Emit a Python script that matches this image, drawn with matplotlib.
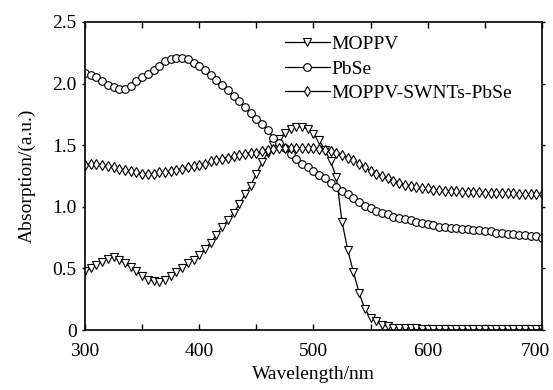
import matplotlib
matplotlib.use("Agg")
import matplotlib.pyplot as plt
import matplotlib.transforms as mtransforms
import numpy as np
from matplotlib.ticker import MultipleLocator, FuncFormatter

# wavelength grid, 5 nm steps
wavelength = np.arange(300, 705, 5)

moppv = [
    0.48, 0.50, 0.53, 0.55, 0.58, 0.59, 0.57, 0.54, 0.51, 0.48,
    0.44, 0.41, 0.40, 0.39, 0.41, 0.44, 0.47, 0.50, 0.54, 0.57,
    0.61, 0.66, 0.71, 0.77, 0.84, 0.89, 0.95, 1.02, 1.10, 1.17,
    1.27, 1.36, 1.44, 1.50, 1.55, 1.60, 1.63, 1.65, 1.65, 1.63,
    1.59, 1.54, 1.46, 1.37, 1.24, 0.88, 0.65, 0.47, 0.30, 0.17,
    0.10, 0.07, 0.04, 0.03, 0.02, 0.02, 0.015, 0.015, 0.015, 0.01,
    0.01, 0.01, 0.01, 0.01, 0.01, 0.01, 0.01, 0.01, 0.01, 0.01,
    0.01, 0.01, 0.01, 0.01, 0.01, 0.01, 0.01, 0.01, 0.01, 0.01,
    0.01,
]

pbse = [
    2.09, 2.07, 2.05, 2.02, 1.99, 1.97, 1.96, 1.96, 1.98, 2.02,
    2.05, 2.08, 2.11, 2.14, 2.18, 2.20, 2.21, 2.21, 2.20, 2.17,
    2.14, 2.11, 2.07, 2.03, 1.99, 1.95, 1.90, 1.86, 1.81, 1.76,
    1.71, 1.67, 1.62, 1.56, 1.52, 1.48, 1.43, 1.39, 1.35, 1.32,
    1.29, 1.26, 1.23, 1.19, 1.16, 1.13, 1.10, 1.07, 1.04, 1.01,
    0.99, 0.97, 0.95, 0.94, 0.92, 0.91, 0.90, 0.89, 0.88, 0.87,
    0.86, 0.85, 0.84, 0.84, 0.83, 0.83, 0.82, 0.82, 0.81, 0.81,
    0.80, 0.80, 0.79, 0.79, 0.78, 0.78, 0.77, 0.77, 0.76, 0.76,
    0.75,
]

hybrid = [
    1.34, 1.35, 1.35, 1.34, 1.33, 1.32, 1.31, 1.30, 1.29, 1.28,
    1.27, 1.27, 1.27, 1.28, 1.28, 1.29, 1.30, 1.31, 1.32, 1.33,
    1.34, 1.35, 1.37, 1.38, 1.39, 1.40, 1.41, 1.42, 1.43, 1.44,
    1.44, 1.45, 1.46, 1.47, 1.48, 1.48, 1.48, 1.48, 1.48, 1.48,
    1.48, 1.47, 1.46, 1.45, 1.44, 1.42, 1.40, 1.38, 1.35, 1.32,
    1.29, 1.27, 1.25, 1.23, 1.21, 1.19, 1.18, 1.17, 1.16, 1.15,
    1.15, 1.14, 1.14, 1.13, 1.13, 1.13, 1.12, 1.12, 1.12, 1.12,
    1.11, 1.11, 1.11, 1.11, 1.11, 1.11, 1.10, 1.10, 1.10, 1.10,
    1.10,
]

labels = ["MOPPV", "PbSe", "MOPPV-SWNTs-PbSe"]
markers = ["v", "o", "d"]
xticks = [300, 400, 500, 600, 700]


def main():
    plt.rcParams['font.family'] = ['Liberation Serif', 'DejaVu Serif']
    plt.rcParams['font.size'] = 14

    fig = plt.figure(figsize=(5.53, 3.9), dpi=100)
    ax = fig.add_axes([0.1537, 0.1538, 0.8263, 0.7898])

    for ys, lab, mk in zip([moppv, pbse, hybrid], labels, markers):
        ax.plot(wavelength, ys, color="black", linewidth=0.9,
                marker=mk, markersize=5.5, markerfacecolor="white",
                markeredgecolor="black", markeredgewidth=0.8, label=lab)

    ax.set_xlim(300, 700)
    ax.set_ylim(0, 2.5)
    ax.set_xticks(xticks)
    ax.xaxis.set_minor_locator(MultipleLocator(50))
    ax.yaxis.set_major_locator(MultipleLocator(0.5))
    ax.yaxis.set_major_formatter(
        FuncFormatter(lambda v, p: "0" if v == 0 else f"{v:.1f}"))

    ax.tick_params(axis='x', which='both', direction='in', top=True,
                   length=4, width=1, pad=9)
    ax.tick_params(axis='y', which='both', direction='in', right=True,
                   length=4, width=1, pad=4)
    ax.tick_params(axis='y', which='both', left=True, direction='out',
                   length=2)
    for sp in ax.spines.values():
        sp.set_linewidth(1.2)

    ax.set_xlabel("Wavelength/nm", labelpad=5)
    ax.set_ylabel("Absorption/(a.u.)", labelpad=12)

    ax.legend(loc="upper right", frameon=False, numpoints=1,
              handlelength=2.3, handletextpad=0.1, labelspacing=0.35,
              borderaxespad=0.3, bbox_to_anchor=(0.965, 1.0))

    # the last x label sits a bit to the left so it stays inside the figure
    last = ax.xaxis.get_major_ticks()[-1].label1
    last.set_transform(last.get_transform() + mtransforms.ScaledTranslation(
        -7 / 100, 0, fig.dpi_scale_trans))

    fig.savefig("out.png", dpi=100)


if __name__ == "__main__":
    main()
